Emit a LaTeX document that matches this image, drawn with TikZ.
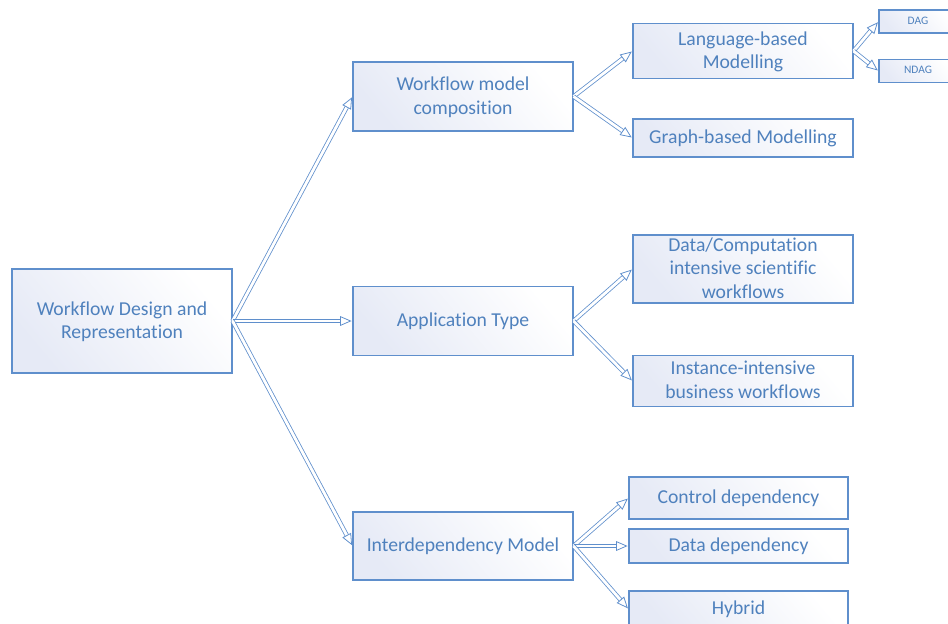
\documentclass[tikz,border=0pt]{standalone}
\usepackage{fontspec}
\setmainfont[Ligatures=NoCommon]{Carlito}
\usetikzlibrary{arrows.meta, positioning}
\definecolor{wfblue}{HTML}{4F81BD}
\definecolor{wfline}{HTML}{5F8FCC}
\definecolor{wftint}{HTML}{E6EAF6}

\begin{document}
\begin{tikzpicture}[
    x=0.02cm, y=-0.02cm,
    box/.style={draw=wfline, line width=0.6pt, left color=wftint, right color=white, shading angle=130,
        text=wfblue, align=center, font=\fontsize{11.2}{13.6}\selectfont, inner sep=0pt, text depth=1pt},
    tinybox/.style={box, font=\fontsize{6.5}{7.5}\selectfont},
    link/.style={draw=wfline, line width=0.45pt, double=white, double distance=1.6pt,
        -{Triangle[open, length=6.5pt, width=5.5pt]}, shorten >=0.5pt},
]
    \clip (0,0) rectangle (948,623);
    \useasboundingbox (0,0) rectangle (948,623);

    % Root
    \node[box, minimum width=220*0.02cm, minimum height=104*0.02cm] (root) at (122,321) {Workflow Design and\\Representation};

    % Second level
    \node[box, minimum width=220*0.02cm, minimum height=69*0.02cm] (comp) at (463,96.5) {Workflow model\\composition};
    \node[box, minimum width=220*0.02cm, minimum height=69*0.02cm] (apptype) at (463,321) {Application Type};
    \node[box, minimum width=220*0.02cm, minimum height=68*0.02cm] (interdep) at (463,546) {Interdependency Model};

    % Modelling
    \node[box, minimum width=220*0.02cm, minimum height=55*0.02cm] (lang) at (743,51) {Language-based\\Modelling};
    \node[box, minimum width=220*0.02cm, minimum height=38*0.02cm] (graph) at (743,138) {Graph-based Modelling};
    \node[tinybox, minimum width=78*0.02cm, minimum height=23*0.02cm] (dag) at (918,21.5) {DAG};
    \node[tinybox, minimum width=78*0.02cm, minimum height=23*0.02cm] (ndag) at (918,71) {NDAG};

    % Application types
    \node[box, minimum width=220*0.02cm, minimum height=68*0.02cm] (scient) at (743,269) {Data/Computation\\intensive scientific\\workflows};
    \node[box, minimum width=220*0.02cm, minimum height=51*0.02cm] (business) at (743,381) {Instance-intensive\\business workflows};

    % Dependencies
    \node[box, minimum width=219*0.02cm, minimum height=42*0.02cm] (control) at (738.5,498) {Control dependency};
    \node[box, minimum width=219*0.02cm, minimum height=34*0.02cm] (datadep) at (738.5,546) {Data dependency};
    \node[box, minimum width=219*0.02cm, minimum height=36*0.02cm] (hybrid) at (738.5,609) {Hybrid};

    % Connectors
    \draw[link] (root.east) -- (comp.west);
    \draw[link] (root.east) -- (apptype.west);
    \draw[link] (root.east) -- (interdep.west);
    \draw[link] (comp.east) -- (lang.west);
    \draw[link] (comp.east) -- (graph.west);
    \draw[link] (lang.east) -- (dag.west);
    \draw[link] (lang.east) -- (ndag.west);
    \draw[link] (apptype.east) -- (scient.west);
    \draw[link] (apptype.east) -- (business.west);
    \draw[link] (interdep.east) -- (control.west);
    \draw[link] (interdep.east) -- (datadep.west);
    \draw[link] (interdep.east) -- (hybrid.west);
\end{tikzpicture}
\end{document}
